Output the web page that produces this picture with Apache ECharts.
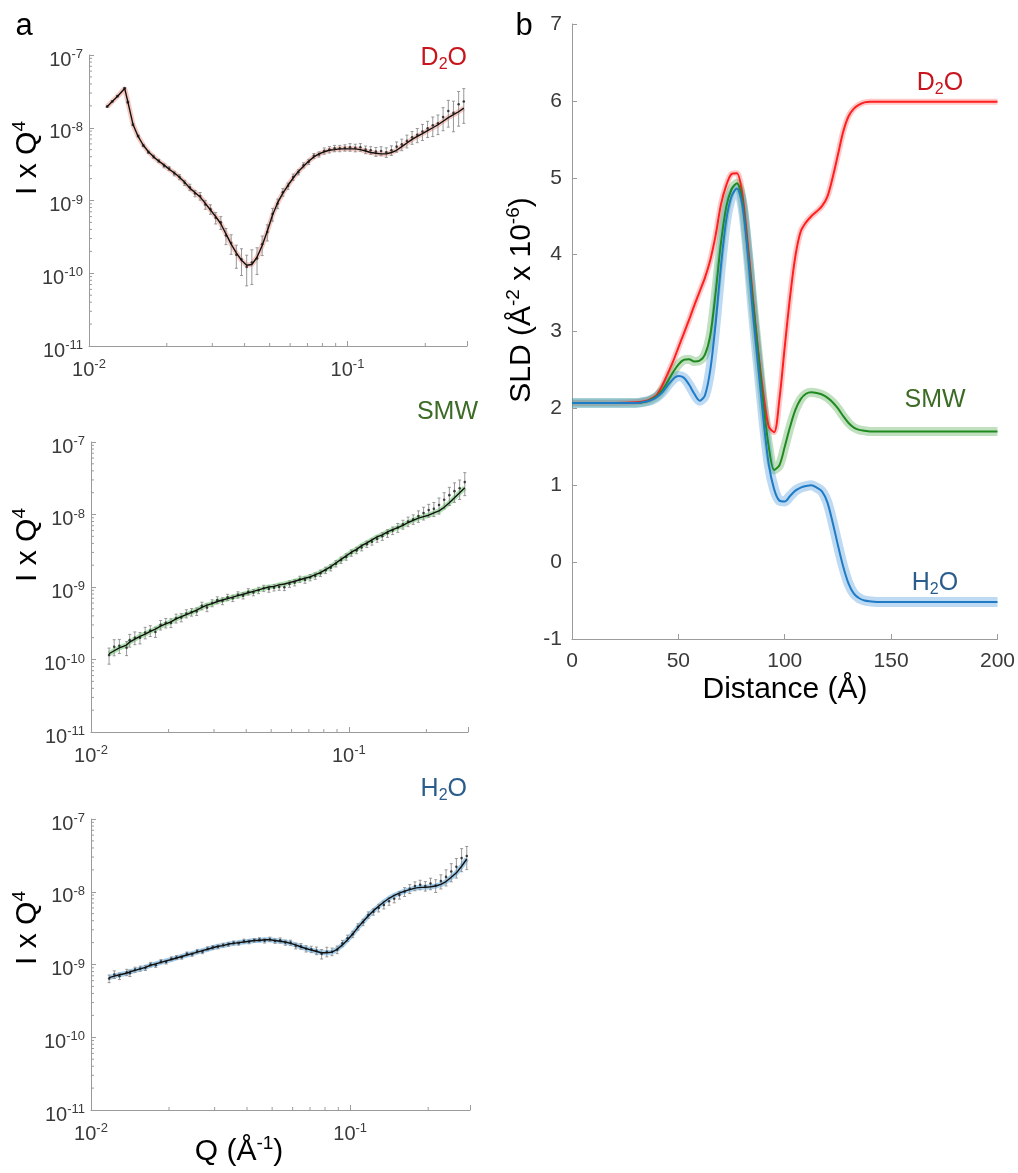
<!DOCTYPE html>
<html>
<head>
<meta charset="utf-8">
<script src="https://cdn.jsdelivr.net/npm/echarts@6/dist/echarts.min.js"></script>
<style>
  html, body { margin: 0; padding: 0; background: #fff; }
  #chart { width: 1018px; height: 1173px; }
</style>
</head>
<body>
<div id="chart"></div>
<script>
// Q grid shared by the three reflectivity panels (1/Å)
const qData = [0.01175,0.01230,0.01288,0.01374,0.01413,0.01479,0.01549,0.01622,0.01698,0.01778,
  0.01862,0.01950,0.02042,0.02138,0.02239,0.02344,0.02455,0.02570,0.02692,0.02818,
  0.02951,0.03090,0.03236,0.03388,0.03548,0.03715,0.03890,0.04074,0.04266,0.04467,
  0.04677,0.04898,0.05129,0.05370,0.05623,0.05888,0.06166,0.06457,0.06761,0.07079,
  0.07413,0.07762,0.08128,0.08511,0.08913,0.09333,0.09772,0.1023,0.1072,0.1122,
  0.1175,0.1230,0.1288,0.1349,0.1413,0.1479,0.1549,0.1622,0.1698,0.1778,
  0.1862,0.1950,0.2042,0.2138,0.2239,0.2344,0.2455,0.2570,0.2692,0.2818];

// D2O
const d2oData = [1.95e-8,2.30e-8,2.72e-8,3.50e-8,2.25e-8,1.10e-8,7.7e-9,5.7e-9,4.6e-9,4.0e-9,
  3.5e-9,3.0e-9,2.75e-9,2.35e-9,2.1e-9,1.75e-9,1.52e-9,1.25e-9,1.15e-9,8.8e-10,
  7.6e-10,5.8e-10,5.0e-10,3.3e-10,2.6e-10,1.8e-10,1.55e-10,1.22e-10,1.40e-10,1.6e-10,
  2.5e-10,3.7e-10,6.5e-10,9.1e-10,1.3e-9,1.58e-9,2.1e-9,2.45e-9,3.05e-9,3.4e-9,
  4.1e-9,4.3e-9,4.8e-9,5.0e-9,5.2e-9,5.2e-9,5.3e-9,5.4e-9,5.3e-9,5.4e-9,
  5.0e-9,4.9e-9,4.7e-9,4.8e-9,4.6e-9,4.9e-9,5.5e-9,5.9e-9,6.6e-9,7.4e-9,
  8.0e-9,8.9e-9,9.8e-9,1.08e-8,1.15e-8,1.4e-8,1.7e-8,1.6e-8,2.1e-8,2.3e-8];
const d2oFit = [1.95e-8,2.29e-8,2.69e-8,3.47e-8,2.29e-8,1.12e-8,7.59e-9,5.75e-9,4.68e-9,3.98e-9,
  3.47e-9,3.09e-9,2.69e-9,2.40e-9,2.09e-9,1.78e-9,1.48e-9,1.29e-9,1.12e-9,9.12e-10,
  7.41e-10,6.03e-10,4.79e-10,3.47e-10,2.51e-10,1.91e-10,1.51e-10,1.29e-10,1.32e-10,1.66e-10,
  2.40e-10,3.80e-10,6.31e-10,9.33e-10,1.26e-9,1.62e-9,2.04e-9,2.51e-9,2.95e-9,3.47e-9,
  3.98e-9,4.37e-9,4.68e-9,4.90e-9,5.01e-9,5.13e-9,5.13e-9,5.13e-9,5.13e-9,5.01e-9,
  4.79e-9,4.57e-9,4.47e-9,4.37e-9,4.37e-9,4.57e-9,4.90e-9,5.50e-9,6.17e-9,6.92e-9,
  7.59e-9,8.32e-9,9.12e-9,1.00e-8,1.10e-8,1.23e-8,1.38e-8,1.51e-8,1.66e-8,1.86e-8];
const d2oErr = [0.02,0.02,0.02,0.02,0.03,0.03,0.03,0.04,0.04,0.05,
  0.05,0.06,0.06,0.07,0.08,0.08,0.1,0.1,0.12,0.14,
  0.15,0.18,0.2,0.25,0.3,0.35,0.4,0.45,0.5,0.4,
  0.3,0.25,0.2,0.15,0.12,0.1,0.1,0.08,0.08,0.08,
  0.08,0.08,0.1,0.1,0.1,0.1,0.1,0.12,0.12,0.12,
  0.12,0.12,0.14,0.14,0.15,0.15,0.16,0.18,0.2,0.2,
  0.22,0.25,0.25,0.3,0.3,0.35,0.4,0.45,0.5,0.5];

// SMW
const smwData = [1.15e-10,1.5e-10,1.55e-10,1.45e-10,1.85e-10,2.0e-10,2.0e-10,2.35e-10,2.5e-10,2.4e-10,
  3.0e-10,3.2e-10,3.2e-10,3.7e-10,3.8e-10,4.3e-10,4.5e-10,4.6e-10,5.5e-10,5.2e-10,
  6.0e-10,6.6e-10,6.4e-10,7.2e-10,7.0e-10,7.8e-10,7.6e-10,8.6e-10,8.4e-10,9.0e-10,
  9.6e-10,9.4e-10,9.8e-10,1.0e-9,9.9e-10,1.1e-9,1.15e-9,1.28e-9,1.25e-9,1.35e-9,
  1.42e-9,1.55e-9,1.7e-9,1.85e-9,2.1e-9,2.35e-9,2.6e-9,2.95e-9,3.2e-9,3.5e-9,
  3.9e-9,4.2e-9,4.6e-9,5.0e-9,5.5e-9,6.0e-9,6.6e-9,7.3e-9,8.0e-9,8.6e-9,
  9.5e-9,1.05e-8,1.15e-8,1.2e-8,1.35e-8,1.6e-8,1.85e-8,2.1e-8,2.3e-8,2.8e-8];
const smwFit = [1.20e-10,1.32e-10,1.45e-10,1.58e-10,1.74e-10,1.91e-10,2.09e-10,2.24e-10,2.45e-10,2.63e-10,
  2.88e-10,3.09e-10,3.31e-10,3.63e-10,3.89e-10,4.17e-10,4.47e-10,4.79e-10,5.25e-10,5.62e-10,
  5.89e-10,6.31e-10,6.61e-10,6.92e-10,7.24e-10,7.59e-10,7.94e-10,8.32e-10,8.71e-10,9.12e-10,
  9.55e-10,1.00e-9,1.02e-9,1.07e-9,1.10e-9,1.15e-9,1.20e-9,1.26e-9,1.32e-9,1.38e-9,
  1.48e-9,1.58e-9,1.74e-9,1.91e-9,2.14e-9,2.40e-9,2.69e-9,3.02e-9,3.31e-9,3.72e-9,
  4.07e-9,4.47e-9,4.90e-9,5.25e-9,5.75e-9,6.17e-9,6.61e-9,7.08e-9,7.76e-9,8.32e-9,
  8.91e-9,9.33e-9,9.77e-9,1.05e-8,1.12e-8,1.26e-8,1.45e-8,1.70e-8,2.00e-8,2.34e-8];
const smwErr = [0.25,0.25,0.22,0.22,0.2,0.2,0.18,0.18,0.17,0.16,
  0.15,0.15,0.14,0.14,0.13,0.13,0.12,0.12,0.12,0.12,
  0.11,0.11,0.11,0.1,0.1,0.1,0.1,0.1,0.1,0.1,
  0.1,0.1,0.1,0.1,0.1,0.1,0.1,0.1,0.1,0.1,
  0.1,0.1,0.1,0.1,0.1,0.1,0.1,0.1,0.1,0.1,
  0.1,0.1,0.1,0.12,0.12,0.12,0.14,0.14,0.15,0.15,
  0.18,0.2,0.2,0.22,0.25,0.25,0.28,0.3,0.3,0.35];

// H2O
const h2oData = [6.4e-10,7.3e-10,6.9e-10,7.8e-10,7.6e-10,8.5e-10,8.8e-10,9.0e-10,1.0e-9,9.8e-10,
  1.1e-9,1.08e-9,1.2e-9,1.25e-9,1.26e-9,1.4e-9,1.38e-9,1.52e-9,1.5e-9,1.65e-9,
  1.72e-9,1.75e-9,1.85e-9,1.88e-9,1.98e-9,1.96e-9,2.1e-9,2.05e-9,2.15e-9,2.2e-9,
  2.12e-9,2.22e-9,2.1e-9,2.15e-9,2.0e-9,2.0e-9,1.8e-9,1.78e-9,1.65e-9,1.62e-9,
  1.55e-9,1.4e-9,1.5e-9,1.5e-9,1.6e-9,1.95e-9,2.3e-9,2.6e-9,3.3e-9,3.8e-9,
  4.8e-9,5.3e-9,6.0e-9,6.6e-9,7.4e-9,8.0e-9,9.0e-9,1.0e-8,1.1e-8,1.2e-8,
  1.25e-8,1.2e-8,1.3e-8,1.22e-8,1.4e-8,1.6e-8,1.9e-8,2.2e-8,2.9e-8,3.1e-8];
const h2oFit = [6.61e-10,6.92e-10,7.24e-10,7.59e-10,7.94e-10,8.32e-10,8.71e-10,9.12e-10,9.77e-10,1.02e-9,
  1.07e-9,1.12e-9,1.17e-9,1.23e-9,1.29e-9,1.35e-9,1.41e-9,1.48e-9,1.55e-9,1.62e-9,
  1.70e-9,1.78e-9,1.82e-9,1.91e-9,1.95e-9,2.00e-9,2.04e-9,2.09e-9,2.14e-9,2.14e-9,
  2.19e-9,2.19e-9,2.14e-9,2.09e-9,2.04e-9,1.95e-9,1.86e-9,1.74e-9,1.66e-9,1.58e-9,
  1.51e-9,1.45e-9,1.45e-9,1.48e-9,1.62e-9,1.86e-9,2.19e-9,2.63e-9,3.24e-9,3.89e-9,
  4.68e-9,5.50e-9,6.31e-9,7.24e-9,8.13e-9,8.91e-9,9.55e-9,1.02e-8,1.07e-8,1.12e-8,
  1.15e-8,1.15e-8,1.17e-8,1.20e-8,1.26e-8,1.38e-8,1.58e-8,1.82e-8,2.24e-8,2.82e-8];
const h2oErr = [0.12,0.12,0.1,0.1,0.1,0.08,0.08,0.08,0.07,0.07,
  0.06,0.06,0.06,0.06,0.06,0.06,0.06,0.06,0.06,0.06,
  0.06,0.06,0.06,0.06,0.06,0.06,0.06,0.06,0.06,0.06,
  0.07,0.07,0.07,0.08,0.08,0.08,0.09,0.09,0.1,0.1,
  0.12,0.15,0.15,0.12,0.12,0.1,0.1,0.1,0.1,0.1,
  0.1,0.1,0.12,0.12,0.12,0.12,0.12,0.14,0.14,0.14,
  0.15,0.15,0.18,0.2,0.22,0.25,0.28,0.3,0.35,0.35];

// SLD profiles (Å, 10^-6 Å^-2)
const sldX = [0,10,20,30,35,37.5,40,42.5,45,47.5,50,52.5,55,57.5,60,62.5,65,67.5,70,72.5,75,77.5,80,82.5,
  85,87.5,90,92.5,95,97.5,100,102.5,105,107.5,110,112.5,115,117.5,120,122.5,125,127.5,130,132.5,
  135,137.5,140,145,150,160,180,200];
const sldD2O = [2.07,2.07,2.07,2.08,2.10,2.13,2.18,2.30,2.45,2.61,2.79,2.97,3.15,3.34,3.52,3.70,3.93,4.25,4.65,4.90,5.05,5.06,4.80,4.18,
  3.45,2.75,2.18,1.76,1.69,2.12,2.80,3.45,3.98,4.30,4.42,4.50,4.56,4.63,4.75,5.00,5.30,5.60,5.80,5.90,
  5.95,5.98,5.99,5.99,5.99,5.99,5.99,5.99];
const sldSMW = [2.07,2.07,2.07,2.07,2.09,2.12,2.16,2.24,2.35,2.47,2.57,2.63,2.64,2.61,2.62,2.70,2.95,3.50,4.15,4.62,4.85,4.93,4.72,4.10,
  3.40,2.72,2.05,1.50,1.20,1.26,1.50,1.76,1.98,2.12,2.19,2.21,2.20,2.18,2.14,2.08,2.00,1.90,1.81,1.75,
  1.72,1.71,1.70,1.70,1.70,1.70,1.70,1.70];
const sldH2O = [2.07,2.07,2.07,2.07,2.09,2.11,2.15,2.21,2.30,2.38,2.42,2.40,2.31,2.19,2.10,2.17,2.50,3.10,3.85,4.45,4.76,4.86,4.65,4.05,
  3.25,2.55,1.85,1.27,0.95,0.80,0.79,0.86,0.93,0.97,0.99,1.00,0.97,0.92,0.78,0.52,0.22,-0.06,-0.28,-0.41,
  -0.47,-0.50,-0.51,-0.52,-0.52,-0.52,-0.52,-0.52];

// minor tick positions for the log axes
const minorMult = [2, 3, 4, 5, 6, 7, 8, 9];
const xDecades = [0.01, 0.1];
const yDecades = [1e-11, 1e-10, 1e-9, 1e-8];

const font = 'Arial, "Liberation Sans", Helvetica, sans-serif';
const axisGray = '#9b9b9b';
const labelGray = '#3a3a3a';

const chart = echarts.init(document.getElementById('chart'));

const pairs = (xs, ys) => xs.map((x, i) => [x, ys[i]]);
const xMinor = [];
xDecades.forEach(d => minorMult.forEach(m => { if (d * m <= 0.29) xMinor.push(d * m); }));
const yMinor = [];
yDecades.forEach(d => minorMult.forEach(m => yMinor.push(d * m)));

const logFormatter = v => {
  const e = Math.log10(v);
  const r = Math.round(e);
  if (Math.abs(e - r) > 1e-6) return '';
  return '{b|10}{s|' + r + '}';
};
const logRich = {
  b: { fontSize: 20, lineHeight: 24, fontFamily: font, color: labelGray },
  s: { fontSize: 13, verticalAlign: 'top', fontFamily: font, color: labelGray }
};

const grids = [
  { left: 89, top: 55, width: 378, height: 291 },
  { left: 91, top: 442, width: 377, height: 290 },
  { left: 91, top: 819, width: 379, height: 291 },
  { left: 572, top: 24, width: 426, height: 615 }
];

const xAxes = [], yAxes = [];
for (let i = 0; i < 3; i++) {
  xAxes.push({
    type: 'log', logBase: 10, gridIndex: i, min: 0.01, max: 0.29,
    axisLine: { show: true, onZero: false, lineStyle: { color: axisGray } },
    axisTick: { show: true, inside: true, length: 5, lineStyle: { color: axisGray } },
    axisLabel: { margin: 12, formatter: logFormatter, rich: logRich },
    splitLine: { show: false }
  });
  yAxes.push({
    type: 'log', logBase: 10, gridIndex: i, min: 1e-11, max: 1e-7,
    axisLine: { show: true, lineStyle: { color: axisGray } },
    axisTick: { show: true, inside: true, length: 5, lineStyle: { color: axisGray } },
    axisLabel: { margin: 6, padding: [10, 0, 0, 0], formatter: logFormatter, rich: logRich },
    splitLine: { show: false }
  });
}
xAxes.push({
  type: 'value', gridIndex: 3, min: 0, max: 200, interval: 50,
  axisLine: { show: true, onZero: false, lineStyle: { color: axisGray } },
  axisTick: { show: true, inside: true, length: 5, lineStyle: { color: axisGray } },
  axisLabel: { margin: 12, fontSize: 21, fontFamily: font, color: labelGray },
  splitLine: { show: false }
});
yAxes.push({
  type: 'value', gridIndex: 3, min: -1, max: 7, interval: 1,
  axisLine: { show: true, lineStyle: { color: axisGray } },
  axisTick: { show: true, inside: true, length: 5, lineStyle: { color: axisGray } },
  axisLabel: { margin: 10, fontSize: 21, fontFamily: font, color: labelGray },
  splitLine: { show: false }
});

function errorBars(p, api) {
  const x = api.value(0), y = api.value(1), e = api.value(2);
  const t = api.coord([x, y * (1 + e)]);
  const b = api.coord([x, y * (1 - e)]);
  const w = 1.5;
  const st = { stroke: '#8c8c8c', lineWidth: 0.9 };
  return {
    type: 'group', children: [
      { type: 'line', shape: { x1: t[0], y1: t[1], x2: b[0], y2: b[1] }, style: st },
      { type: 'line', shape: { x1: t[0] - w, y1: t[1], x2: t[0] + w, y2: t[1] }, style: st },
      { type: 'line', shape: { x1: b[0] - w, y1: b[1], x2: b[0] + w, y2: b[1] }, style: st }
    ]
  };
}

const panels = [
  { data: d2oData, fit: d2oFit, err: d2oErr, band: 'rgba(236,120,100,0.40)' },
  { data: smwData, fit: smwFit, err: smwErr, band: 'rgba(70,190,70,0.45)' },
  { data: h2oData, fit: h2oFit, err: h2oErr, band: 'rgba(70,160,225,0.50)' }
];

const series = [];
panels.forEach((pn, i) => {
  series.push({
    type: 'line', xAxisIndex: i, yAxisIndex: i, data: pairs(qData, pn.fit),
    showSymbol: false, silent: true, z: 1,
    lineStyle: { color: pn.band, width: 5 }
  });
  series.push({
    type: 'custom', xAxisIndex: i, yAxisIndex: i, z: 2, silent: true,
    dimensions: ['q', 'v', 'e'], encode: { x: 0, y: 1 },
    data: qData.map((q, k) => [q, pn.data[k], pn.err[k]]),
    renderItem: errorBars
  });
  series.push({
    type: 'scatter', xAxisIndex: i, yAxisIndex: i, z: 3, silent: true,
    symbolSize: 2.6, itemStyle: { color: '#1c1c1c' },
    data: pairs(qData, pn.data)
  });
  series.push({
    type: 'line', xAxisIndex: i, yAxisIndex: i, data: pairs(qData, pn.fit),
    showSymbol: false, silent: true, z: 4,
    lineStyle: { color: '#111', width: 1.4 }
  });
  series.push({
    type: 'custom', xAxisIndex: i, yAxisIndex: i, z: 5, silent: true,
    data: xMinor.map(v => [v, 1e-11]),
    renderItem: (p, api) => {
      const c = api.coord([api.value(0), api.value(1)]);
      return { type: 'line', shape: { x1: c[0], y1: c[1], x2: c[0], y2: c[1] - 3 }, style: { stroke: axisGray, lineWidth: 1 } };
    }
  });
  series.push({
    type: 'custom', xAxisIndex: i, yAxisIndex: i, z: 5, silent: true,
    data: yMinor.map(v => [0.01, v]),
    renderItem: (p, api) => {
      const c = api.coord([api.value(0), api.value(1)]);
      return { type: 'line', shape: { x1: c[0], y1: c[1], x2: c[0] + 3, y2: c[1] }, style: { stroke: axisGray, lineWidth: 1 } };
    }
  });
});

const sld = [
  { y: sldD2O, line: '#ff1f1f', band: 'rgba(255,60,60,0.28)', bw: 6 },
  { y: sldSMW, line: '#1f8a1f', band: 'rgba(60,160,60,0.32)', bw: 9 },
  { y: sldH2O, line: '#1f7bc6', band: 'rgba(50,140,215,0.32)', bw: 10 }
];
sld.forEach((s, i) => {
  series.push({
    type: 'line', xAxisIndex: 3, yAxisIndex: 3, data: pairs(sldX, s.y),
    showSymbol: false, silent: true, smooth: 0.3, z: 1,
    lineStyle: { color: s.band, width: s.bw }
  });
});
sld.forEach((s, i) => {
  series.push({
    type: 'line', xAxisIndex: 3, yAxisIndex: 3, data: pairs(sldX, s.y),
    showSymbol: false, silent: true, smooth: 0.3, z: 3 + i,
    lineStyle: { color: s.line, width: 2 }
  });
});

function label(x, y, text, rich, rot, align) {
  return {
    type: 'text', x: x, y: y, rotation: rot || 0, silent: true,
    style: { text: text, rich: rich, align: align || 'center', verticalAlign: 'middle', font: '28px ' + font }
  };
}
const nameRich = {
  n: { fontSize: 30, lineHeight: 36, fontFamily: font, fill: '#000' },
  s: { fontSize: 19, verticalAlign: 'top', fontFamily: font, fill: '#000' }
};
const subRich = c => ({
  m: { fontSize: 25, lineHeight: 30, fontFamily: font, fill: c },
  u: { fontSize: 16, verticalAlign: 'bottom', fontFamily: font, fill: c }
});
const dRed = '#c8141c', dGreen = '#3c6b26', dBlue = '#2a5d8c';

const graphics = [
  label(24, 26, '{n|a}', { n: { fontSize: 31, fontFamily: font, fill: '#000' } }),
  label(524, 26, '{n|b}', { n: { fontSize: 31, fontFamily: font, fill: '#000' } }),
  label(28, 158, '{n|I x Q}{s|4}', nameRich, Math.PI / 2),
  label(28, 545, '{n|I x Q}{s|4}', nameRich, Math.PI / 2),
  label(28, 928, '{n|I x Q}{s|4}', nameRich, Math.PI / 2),
  label(239, 1152, '{n|Q (Å}{s|-1}{n|)}', nameRich),
  label(522, 300, '{n|SLD (Å}{s|-2}{n| x 10}{s|-6}{n|)}', nameRich, Math.PI / 2),
  label(785, 690, '{n|Distance (Å)}', nameRich),
  label(467, 58, '{m|D}{u|2}{m|O}', subRich(dRed), 0, 'right'),
  label(478, 412, '{m|SMW}', subRich(dGreen), 0, 'right'),
  label(467, 789, '{m|H}{u|2}{m|O}', subRich(dBlue), 0, 'right'),
  label(940, 83, '{m|D}{u|2}{m|O}', subRich(dRed)),
  label(935, 400, '{m|SMW}', subRich(dGreen)),
  label(935, 583, '{m|H}{u|2}{m|O}', subRich(dBlue))
];

chart.setOption({
  animation: false,
  backgroundColor: '#fff',
  grid: grids,
  xAxis: xAxes,
  yAxis: yAxes,
  series: series,
  graphic: graphics
});
</script>
</body>
</html>
